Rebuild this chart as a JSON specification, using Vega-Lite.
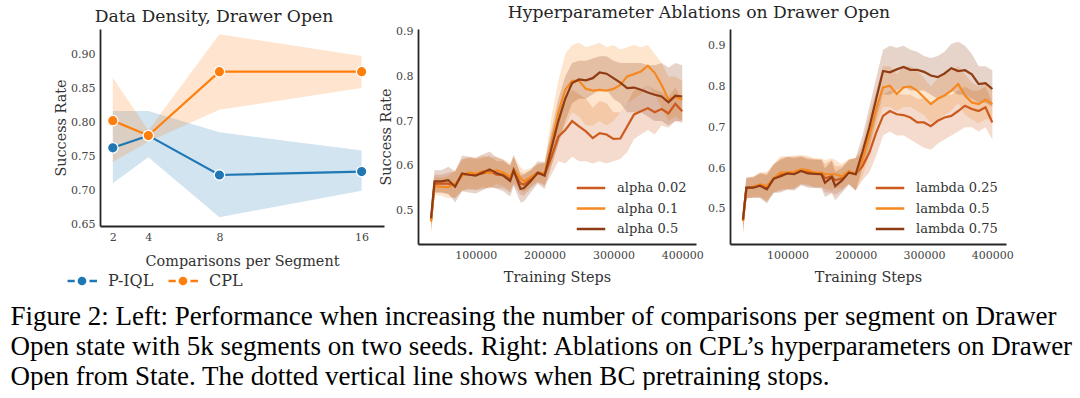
{
"$schema":"https://vega.github.io/schema/vega-lite/v6.json",
"background":"white",
"padding":{"left":10,"top":4,"right":5,"bottom":0},
"config":{"view":{"stroke":null},"font":"DejaVu Serif",
 "axis":{"domainColor":"#262626","domainWidth":1.8,"ticks":false,"grid":false,"labelOverlap":false,"labelFont":"DejaVu Serif","labelFontSize":11,"labelColor":"#444","labelPadding":5,"titleFont":"DejaVu Serif","titleFontSize":14.4,"titleFontWeight":"normal","titleColor":"#333"},
 "legend":{"labelFont":"DejaVu Serif","labelFontSize":13,"labelColor":"#333"}},
"title":{"text":["Figure 2: Left: Performance when increasing the number of comparisons per segment on Drawer","Open state with 5k segments on two seeds. Right: Ablations on CPL’s hyperparameters on Drawer","Open from State. The dotted vertical line shows when BC pretraining stops."],"orient":"bottom","anchor":"start","frame":"bounds","font":"Liberation Serif","fontSize":27,"fontWeight":"normal","lineHeight":30,"color":"black","dx":-43,"offset":15},
"bounds":"flush",
"spacing":34,
"resolve":{"scale":{"color":"independent","fill":"independent","x":"independent","y":"independent"},"legend":{"color":"independent","fill":"independent"}},
"datasets":{
"dd":[
{"c":2,"method":"P-IQL","m":0.763,"lo":0.711,"hi":0.817},
{"c":4,"method":"P-IQL","m":0.781,"lo":0.749,"hi":0.817},
{"c":8,"method":"P-IQL","m":0.723,"lo":0.661,"hi":0.786},
{"c":16,"method":"P-IQL","m":0.728,"lo":0.700,"hi":0.759},
{"c":2,"method":"CPL","m":0.803,"lo":0.742,"hi":0.866},
{"c":4,"method":"CPL","m":0.781,"lo":0.772,"hi":0.789},
{"c":8,"method":"CPL","m":0.875,"lo":0.819,"hi":0.930},
{"c":16,"method":"CPL","m":0.875,"lo":0.851,"hi":0.898}],
"alpha":[
{"s":35000,"k":"alpha 0.02","m":0.478,"lo":0.453,"hi":0.503},
{"s":40000,"k":"alpha 0.02","m":0.560,"lo":0.540,"hi":0.580},
{"s":50000,"k":"alpha 0.02","m":0.560,"lo":0.540,"hi":0.580},
{"s":60000,"k":"alpha 0.02","m":0.560,"lo":0.535,"hi":0.585},
{"s":70000,"k":"alpha 0.02","m":0.556,"lo":0.526,"hi":0.586},
{"s":80000,"k":"alpha 0.02","m":0.580,"lo":0.545,"hi":0.615},
{"s":90000,"k":"alpha 0.02","m":0.582,"lo":0.547,"hi":0.617},
{"s":100000,"k":"alpha 0.02","m":0.580,"lo":0.545,"hi":0.615},
{"s":110000,"k":"alpha 0.02","m":0.583,"lo":0.548,"hi":0.618},
{"s":120000,"k":"alpha 0.02","m":0.588,"lo":0.553,"hi":0.623},
{"s":130000,"k":"alpha 0.02","m":0.580,"lo":0.550,"hi":0.610},
{"s":140000,"k":"alpha 0.02","m":0.580,"lo":0.550,"hi":0.610},
{"s":150000,"k":"alpha 0.02","m":0.570,"lo":0.540,"hi":0.600},
{"s":155000,"k":"alpha 0.02","m":0.588,"lo":0.558,"hi":0.618},
{"s":165000,"k":"alpha 0.02","m":0.560,"lo":0.535,"hi":0.585},
{"s":170000,"k":"alpha 0.02","m":0.558,"lo":0.533,"hi":0.583},
{"s":180000,"k":"alpha 0.02","m":0.570,"lo":0.550,"hi":0.590},
{"s":190000,"k":"alpha 0.02","m":0.583,"lo":0.563,"hi":0.603},
{"s":200000,"k":"alpha 0.02","m":0.580,"lo":0.555,"hi":0.605},
{"s":210000,"k":"alpha 0.02","m":0.620,"lo":0.580,"hi":0.670},
{"s":220000,"k":"alpha 0.02","m":0.665,"lo":0.610,"hi":0.720},
{"s":230000,"k":"alpha 0.02","m":0.680,"lo":0.605,"hi":0.750},
{"s":240000,"k":"alpha 0.02","m":0.700,"lo":0.620,"hi":0.770},
{"s":250000,"k":"alpha 0.02","m":0.688,"lo":0.610,"hi":0.760},
{"s":260000,"k":"alpha 0.02","m":0.677,"lo":0.610,"hi":0.750},
{"s":270000,"k":"alpha 0.02","m":0.662,"lo":0.605,"hi":0.730},
{"s":280000,"k":"alpha 0.02","m":0.673,"lo":0.610,"hi":0.745},
{"s":290000,"k":"alpha 0.02","m":0.670,"lo":0.605,"hi":0.740},
{"s":300000,"k":"alpha 0.02","m":0.660,"lo":0.610,"hi":0.720},
{"s":310000,"k":"alpha 0.02","m":0.661,"lo":0.615,"hi":0.720},
{"s":320000,"k":"alpha 0.02","m":0.688,"lo":0.630,"hi":0.740},
{"s":330000,"k":"alpha 0.02","m":0.715,"lo":0.660,"hi":0.770},
{"s":340000,"k":"alpha 0.02","m":0.722,"lo":0.670,"hi":0.770},
{"s":350000,"k":"alpha 0.02","m":0.729,"lo":0.680,"hi":0.780},
{"s":360000,"k":"alpha 0.02","m":0.720,"lo":0.670,"hi":0.770},
{"s":370000,"k":"alpha 0.02","m":0.727,"lo":0.690,"hi":0.765},
{"s":380000,"k":"alpha 0.02","m":0.717,"lo":0.685,"hi":0.755},
{"s":390000,"k":"alpha 0.02","m":0.739,"lo":0.700,"hi":0.775},
{"s":400000,"k":"alpha 0.02","m":0.722,"lo":0.695,"hi":0.750},
{"s":35000,"k":"alpha 0.1","m":0.475,"lo":0.450,"hi":0.500},
{"s":40000,"k":"alpha 0.1","m":0.555,"lo":0.535,"hi":0.575},
{"s":50000,"k":"alpha 0.1","m":0.553,"lo":0.533,"hi":0.573},
{"s":60000,"k":"alpha 0.1","m":0.552,"lo":0.527,"hi":0.577},
{"s":70000,"k":"alpha 0.1","m":0.560,"lo":0.530,"hi":0.590},
{"s":80000,"k":"alpha 0.1","m":0.578,"lo":0.543,"hi":0.613},
{"s":90000,"k":"alpha 0.1","m":0.585,"lo":0.550,"hi":0.620},
{"s":100000,"k":"alpha 0.1","m":0.582,"lo":0.547,"hi":0.617},
{"s":110000,"k":"alpha 0.1","m":0.588,"lo":0.553,"hi":0.623},
{"s":120000,"k":"alpha 0.1","m":0.583,"lo":0.548,"hi":0.618},
{"s":130000,"k":"alpha 0.1","m":0.590,"lo":0.560,"hi":0.620},
{"s":140000,"k":"alpha 0.1","m":0.585,"lo":0.555,"hi":0.615},
{"s":150000,"k":"alpha 0.1","m":0.575,"lo":0.545,"hi":0.605},
{"s":155000,"k":"alpha 0.1","m":0.592,"lo":0.562,"hi":0.622},
{"s":165000,"k":"alpha 0.1","m":0.572,"lo":0.547,"hi":0.597},
{"s":170000,"k":"alpha 0.1","m":0.565,"lo":0.540,"hi":0.590},
{"s":180000,"k":"alpha 0.1","m":0.575,"lo":0.555,"hi":0.595},
{"s":190000,"k":"alpha 0.1","m":0.585,"lo":0.565,"hi":0.605},
{"s":200000,"k":"alpha 0.1","m":0.583,"lo":0.558,"hi":0.608},
{"s":210000,"k":"alpha 0.1","m":0.650,"lo":0.600,"hi":0.710},
{"s":220000,"k":"alpha 0.1","m":0.720,"lo":0.650,"hi":0.790},
{"s":230000,"k":"alpha 0.1","m":0.770,"lo":0.690,"hi":0.850},
{"s":240000,"k":"alpha 0.1","m":0.790,"lo":0.720,"hi":0.870},
{"s":250000,"k":"alpha 0.1","m":0.790,"lo":0.710,"hi":0.875},
{"s":260000,"k":"alpha 0.1","m":0.772,"lo":0.690,"hi":0.865},
{"s":270000,"k":"alpha 0.1","m":0.768,"lo":0.690,"hi":0.870},
{"s":280000,"k":"alpha 0.1","m":0.770,"lo":0.700,"hi":0.875},
{"s":290000,"k":"alpha 0.1","m":0.768,"lo":0.690,"hi":0.865},
{"s":300000,"k":"alpha 0.1","m":0.772,"lo":0.700,"hi":0.870},
{"s":310000,"k":"alpha 0.1","m":0.781,"lo":0.720,"hi":0.860},
{"s":320000,"k":"alpha 0.1","m":0.800,"lo":0.740,"hi":0.865},
{"s":330000,"k":"alpha 0.1","m":0.805,"lo":0.750,"hi":0.870},
{"s":340000,"k":"alpha 0.1","m":0.811,"lo":0.760,"hi":0.865},
{"s":350000,"k":"alpha 0.1","m":0.824,"lo":0.780,"hi":0.870},
{"s":360000,"k":"alpha 0.1","m":0.808,"lo":0.760,"hi":0.850},
{"s":370000,"k":"alpha 0.1","m":0.781,"lo":0.730,"hi":0.830},
{"s":380000,"k":"alpha 0.1","m":0.748,"lo":0.700,"hi":0.800},
{"s":390000,"k":"alpha 0.1","m":0.754,"lo":0.710,"hi":0.800},
{"s":400000,"k":"alpha 0.1","m":0.748,"lo":0.700,"hi":0.790},
{"s":35000,"k":"alpha 0.5","m":0.483,"lo":0.453,"hi":0.513},
{"s":40000,"k":"alpha 0.5","m":0.565,"lo":0.540,"hi":0.590},
{"s":50000,"k":"alpha 0.5","m":0.565,"lo":0.540,"hi":0.590},
{"s":60000,"k":"alpha 0.5","m":0.568,"lo":0.538,"hi":0.598},
{"s":70000,"k":"alpha 0.5","m":0.553,"lo":0.518,"hi":0.588},
{"s":80000,"k":"alpha 0.5","m":0.583,"lo":0.543,"hi":0.623},
{"s":90000,"k":"alpha 0.5","m":0.580,"lo":0.540,"hi":0.620},
{"s":100000,"k":"alpha 0.5","m":0.578,"lo":0.538,"hi":0.618},
{"s":110000,"k":"alpha 0.5","m":0.585,"lo":0.545,"hi":0.625},
{"s":120000,"k":"alpha 0.5","m":0.592,"lo":0.552,"hi":0.632},
{"s":130000,"k":"alpha 0.5","m":0.584,"lo":0.549,"hi":0.619},
{"s":140000,"k":"alpha 0.5","m":0.578,"lo":0.543,"hi":0.613},
{"s":150000,"k":"alpha 0.5","m":0.566,"lo":0.531,"hi":0.601},
{"s":155000,"k":"alpha 0.5","m":0.590,"lo":0.555,"hi":0.625},
{"s":165000,"k":"alpha 0.5","m":0.548,"lo":0.518,"hi":0.578},
{"s":170000,"k":"alpha 0.5","m":0.550,"lo":0.520,"hi":0.580},
{"s":180000,"k":"alpha 0.5","m":0.566,"lo":0.541,"hi":0.591},
{"s":190000,"k":"alpha 0.5","m":0.585,"lo":0.560,"hi":0.610},
{"s":200000,"k":"alpha 0.5","m":0.578,"lo":0.548,"hi":0.608},
{"s":210000,"k":"alpha 0.5","m":0.640,"lo":0.600,"hi":0.680},
{"s":220000,"k":"alpha 0.5","m":0.700,"lo":0.650,"hi":0.750},
{"s":230000,"k":"alpha 0.5","m":0.750,"lo":0.700,"hi":0.800},
{"s":240000,"k":"alpha 0.5","m":0.785,"lo":0.740,"hi":0.830},
{"s":250000,"k":"alpha 0.5","m":0.793,"lo":0.750,"hi":0.835},
{"s":260000,"k":"alpha 0.5","m":0.791,"lo":0.750,"hi":0.835},
{"s":270000,"k":"alpha 0.5","m":0.796,"lo":0.760,"hi":0.840},
{"s":280000,"k":"alpha 0.5","m":0.809,"lo":0.770,"hi":0.845},
{"s":290000,"k":"alpha 0.5","m":0.806,"lo":0.770,"hi":0.845},
{"s":300000,"k":"alpha 0.5","m":0.796,"lo":0.750,"hi":0.835},
{"s":310000,"k":"alpha 0.5","m":0.786,"lo":0.740,"hi":0.830},
{"s":320000,"k":"alpha 0.5","m":0.774,"lo":0.720,"hi":0.830},
{"s":330000,"k":"alpha 0.5","m":0.775,"lo":0.720,"hi":0.830},
{"s":340000,"k":"alpha 0.5","m":0.770,"lo":0.720,"hi":0.830},
{"s":350000,"k":"alpha 0.5","m":0.764,"lo":0.710,"hi":0.825},
{"s":360000,"k":"alpha 0.5","m":0.759,"lo":0.700,"hi":0.825},
{"s":370000,"k":"alpha 0.5","m":0.755,"lo":0.700,"hi":0.830},
{"s":380000,"k":"alpha 0.5","m":0.742,"lo":0.690,"hi":0.820},
{"s":390000,"k":"alpha 0.5","m":0.757,"lo":0.700,"hi":0.830},
{"s":400000,"k":"alpha 0.5","m":0.755,"lo":0.700,"hi":0.825}],
"lambda":[
{"s":35000,"k":"lambda 0.25","m":0.472,"lo":0.442,"hi":0.502},
{"s":40000,"k":"lambda 0.25","m":0.551,"lo":0.526,"hi":0.576},
{"s":50000,"k":"lambda 0.25","m":0.553,"lo":0.528,"hi":0.578},
{"s":60000,"k":"lambda 0.25","m":0.558,"lo":0.528,"hi":0.588},
{"s":70000,"k":"lambda 0.25","m":0.552,"lo":0.517,"hi":0.587},
{"s":80000,"k":"lambda 0.25","m":0.575,"lo":0.540,"hi":0.610},
{"s":90000,"k":"lambda 0.25","m":0.584,"lo":0.544,"hi":0.624},
{"s":100000,"k":"lambda 0.25","m":0.588,"lo":0.548,"hi":0.628},
{"s":110000,"k":"lambda 0.25","m":0.588,"lo":0.548,"hi":0.628},
{"s":120000,"k":"lambda 0.25","m":0.595,"lo":0.560,"hi":0.630},
{"s":130000,"k":"lambda 0.25","m":0.591,"lo":0.556,"hi":0.626},
{"s":140000,"k":"lambda 0.25","m":0.587,"lo":0.552,"hi":0.622},
{"s":150000,"k":"lambda 0.25","m":0.587,"lo":0.552,"hi":0.622},
{"s":155000,"k":"lambda 0.25","m":0.575,"lo":0.540,"hi":0.610},
{"s":165000,"k":"lambda 0.25","m":0.580,"lo":0.540,"hi":0.620},
{"s":170000,"k":"lambda 0.25","m":0.570,"lo":0.535,"hi":0.605},
{"s":180000,"k":"lambda 0.25","m":0.575,"lo":0.545,"hi":0.605},
{"s":190000,"k":"lambda 0.25","m":0.591,"lo":0.561,"hi":0.621},
{"s":200000,"k":"lambda 0.25","m":0.585,"lo":0.545,"hi":0.625},
{"s":210000,"k":"lambda 0.25","m":0.605,"lo":0.570,"hi":0.640},
{"s":220000,"k":"lambda 0.25","m":0.638,"lo":0.590,"hi":0.690},
{"s":230000,"k":"lambda 0.25","m":0.687,"lo":0.630,"hi":0.740},
{"s":240000,"k":"lambda 0.25","m":0.728,"lo":0.680,"hi":0.780},
{"s":250000,"k":"lambda 0.25","m":0.740,"lo":0.690,"hi":0.790},
{"s":260000,"k":"lambda 0.25","m":0.732,"lo":0.680,"hi":0.785},
{"s":270000,"k":"lambda 0.25","m":0.730,"lo":0.680,"hi":0.780},
{"s":280000,"k":"lambda 0.25","m":0.724,"lo":0.670,"hi":0.780},
{"s":290000,"k":"lambda 0.25","m":0.712,"lo":0.660,"hi":0.770},
{"s":300000,"k":"lambda 0.25","m":0.712,"lo":0.650,"hi":0.770},
{"s":310000,"k":"lambda 0.25","m":0.703,"lo":0.645,"hi":0.760},
{"s":320000,"k":"lambda 0.25","m":0.716,"lo":0.660,"hi":0.770},
{"s":330000,"k":"lambda 0.25","m":0.724,"lo":0.670,"hi":0.780},
{"s":340000,"k":"lambda 0.25","m":0.728,"lo":0.680,"hi":0.780},
{"s":350000,"k":"lambda 0.25","m":0.740,"lo":0.690,"hi":0.790},
{"s":360000,"k":"lambda 0.25","m":0.753,"lo":0.700,"hi":0.800},
{"s":370000,"k":"lambda 0.25","m":0.745,"lo":0.700,"hi":0.790},
{"s":380000,"k":"lambda 0.25","m":0.740,"lo":0.690,"hi":0.790},
{"s":390000,"k":"lambda 0.25","m":0.749,"lo":0.700,"hi":0.800},
{"s":400000,"k":"lambda 0.25","m":0.712,"lo":0.670,"hi":0.760},
{"s":35000,"k":"lambda 0.5","m":0.470,"lo":0.440,"hi":0.500},
{"s":40000,"k":"lambda 0.5","m":0.550,"lo":0.525,"hi":0.575},
{"s":50000,"k":"lambda 0.5","m":0.555,"lo":0.530,"hi":0.580},
{"s":60000,"k":"lambda 0.5","m":0.560,"lo":0.530,"hi":0.590},
{"s":70000,"k":"lambda 0.5","m":0.556,"lo":0.521,"hi":0.591},
{"s":80000,"k":"lambda 0.5","m":0.575,"lo":0.540,"hi":0.610},
{"s":90000,"k":"lambda 0.5","m":0.589,"lo":0.549,"hi":0.629},
{"s":100000,"k":"lambda 0.5","m":0.589,"lo":0.549,"hi":0.629},
{"s":110000,"k":"lambda 0.5","m":0.591,"lo":0.551,"hi":0.631},
{"s":120000,"k":"lambda 0.5","m":0.597,"lo":0.562,"hi":0.632},
{"s":130000,"k":"lambda 0.5","m":0.595,"lo":0.560,"hi":0.630},
{"s":140000,"k":"lambda 0.5","m":0.589,"lo":0.554,"hi":0.624},
{"s":150000,"k":"lambda 0.5","m":0.589,"lo":0.554,"hi":0.624},
{"s":155000,"k":"lambda 0.5","m":0.585,"lo":0.550,"hi":0.620},
{"s":165000,"k":"lambda 0.5","m":0.585,"lo":0.545,"hi":0.625},
{"s":170000,"k":"lambda 0.5","m":0.585,"lo":0.550,"hi":0.620},
{"s":180000,"k":"lambda 0.5","m":0.580,"lo":0.550,"hi":0.610},
{"s":190000,"k":"lambda 0.5","m":0.593,"lo":0.563,"hi":0.623},
{"s":200000,"k":"lambda 0.5","m":0.585,"lo":0.545,"hi":0.625},
{"s":210000,"k":"lambda 0.5","m":0.620,"lo":0.580,"hi":0.660},
{"s":220000,"k":"lambda 0.5","m":0.680,"lo":0.630,"hi":0.730},
{"s":230000,"k":"lambda 0.5","m":0.745,"lo":0.700,"hi":0.790},
{"s":240000,"k":"lambda 0.5","m":0.798,"lo":0.750,"hi":0.850},
{"s":250000,"k":"lambda 0.5","m":0.802,"lo":0.750,"hi":0.850},
{"s":260000,"k":"lambda 0.5","m":0.782,"lo":0.740,"hi":0.830},
{"s":270000,"k":"lambda 0.5","m":0.798,"lo":0.750,"hi":0.850},
{"s":280000,"k":"lambda 0.5","m":0.800,"lo":0.750,"hi":0.850},
{"s":290000,"k":"lambda 0.5","m":0.790,"lo":0.740,"hi":0.840},
{"s":300000,"k":"lambda 0.5","m":0.773,"lo":0.730,"hi":0.820},
{"s":310000,"k":"lambda 0.5","m":0.757,"lo":0.710,"hi":0.800},
{"s":320000,"k":"lambda 0.5","m":0.770,"lo":0.720,"hi":0.820},
{"s":330000,"k":"lambda 0.5","m":0.778,"lo":0.730,"hi":0.830},
{"s":340000,"k":"lambda 0.5","m":0.790,"lo":0.740,"hi":0.840},
{"s":350000,"k":"lambda 0.5","m":0.806,"lo":0.760,"hi":0.850},
{"s":360000,"k":"lambda 0.5","m":0.778,"lo":0.730,"hi":0.830},
{"s":370000,"k":"lambda 0.5","m":0.761,"lo":0.720,"hi":0.810},
{"s":380000,"k":"lambda 0.5","m":0.757,"lo":0.710,"hi":0.800},
{"s":390000,"k":"lambda 0.5","m":0.768,"lo":0.720,"hi":0.810},
{"s":400000,"k":"lambda 0.5","m":0.757,"lo":0.720,"hi":0.800},
{"s":35000,"k":"lambda 0.75","m":0.474,"lo":0.444,"hi":0.504},
{"s":40000,"k":"lambda 0.75","m":0.552,"lo":0.527,"hi":0.577},
{"s":50000,"k":"lambda 0.75","m":0.552,"lo":0.527,"hi":0.577},
{"s":60000,"k":"lambda 0.75","m":0.557,"lo":0.527,"hi":0.587},
{"s":70000,"k":"lambda 0.75","m":0.548,"lo":0.513,"hi":0.583},
{"s":80000,"k":"lambda 0.75","m":0.574,"lo":0.539,"hi":0.609},
{"s":90000,"k":"lambda 0.75","m":0.580,"lo":0.540,"hi":0.620},
{"s":100000,"k":"lambda 0.75","m":0.587,"lo":0.547,"hi":0.627},
{"s":110000,"k":"lambda 0.75","m":0.585,"lo":0.545,"hi":0.625},
{"s":120000,"k":"lambda 0.75","m":0.593,"lo":0.558,"hi":0.628},
{"s":130000,"k":"lambda 0.75","m":0.587,"lo":0.552,"hi":0.622},
{"s":140000,"k":"lambda 0.75","m":0.586,"lo":0.551,"hi":0.621},
{"s":150000,"k":"lambda 0.75","m":0.585,"lo":0.550,"hi":0.620},
{"s":155000,"k":"lambda 0.75","m":0.564,"lo":0.529,"hi":0.599},
{"s":165000,"k":"lambda 0.75","m":0.578,"lo":0.538,"hi":0.618},
{"s":170000,"k":"lambda 0.75","m":0.556,"lo":0.521,"hi":0.591},
{"s":180000,"k":"lambda 0.75","m":0.570,"lo":0.540,"hi":0.600},
{"s":190000,"k":"lambda 0.75","m":0.589,"lo":0.559,"hi":0.619},
{"s":200000,"k":"lambda 0.75","m":0.585,"lo":0.545,"hi":0.625},
{"s":210000,"k":"lambda 0.75","m":0.640,"lo":0.600,"hi":0.680},
{"s":220000,"k":"lambda 0.75","m":0.700,"lo":0.650,"hi":0.750},
{"s":230000,"k":"lambda 0.75","m":0.770,"lo":0.720,"hi":0.820},
{"s":240000,"k":"lambda 0.75","m":0.838,"lo":0.780,"hi":0.890},
{"s":250000,"k":"lambda 0.75","m":0.835,"lo":0.780,"hi":0.900},
{"s":260000,"k":"lambda 0.75","m":0.842,"lo":0.790,"hi":0.895},
{"s":270000,"k":"lambda 0.75","m":0.848,"lo":0.800,"hi":0.900},
{"s":280000,"k":"lambda 0.75","m":0.841,"lo":0.790,"hi":0.890},
{"s":290000,"k":"lambda 0.75","m":0.841,"lo":0.790,"hi":0.885},
{"s":300000,"k":"lambda 0.75","m":0.836,"lo":0.790,"hi":0.875},
{"s":310000,"k":"lambda 0.75","m":0.827,"lo":0.780,"hi":0.870},
{"s":320000,"k":"lambda 0.75","m":0.823,"lo":0.770,"hi":0.875},
{"s":330000,"k":"lambda 0.75","m":0.832,"lo":0.780,"hi":0.885},
{"s":340000,"k":"lambda 0.75","m":0.845,"lo":0.790,"hi":0.905},
{"s":350000,"k":"lambda 0.75","m":0.838,"lo":0.780,"hi":0.910},
{"s":360000,"k":"lambda 0.75","m":0.840,"lo":0.780,"hi":0.900},
{"s":370000,"k":"lambda 0.75","m":0.830,"lo":0.770,"hi":0.880},
{"s":380000,"k":"lambda 0.75","m":0.806,"lo":0.760,"hi":0.850},
{"s":390000,"k":"lambda 0.75","m":0.808,"lo":0.760,"hi":0.850},
{"s":400000,"k":"lambda 0.75","m":0.794,"lo":0.750,"hi":0.840}]
},
"hconcat":[
{
 "width":284,"height":197,
 "title":{"text":"Data Density, Drawer Open","font":"DejaVu Serif","fontSize":17.2,"fontWeight":"normal","color":"#262626","anchor":"middle","dx":-28,"offset":4},
 "data":{"name":"dd"},
 "encoding":{
  "x":{"field":"c","type":"quantitative","scale":{"domain":[1.28,17.26],"nice":false,"zero":false},"axis":{"values":[2,4,8,16],"labelOverlap":false,"title":"Comparisons per Segment","titlePadding":12}}
 },
 "layer":[
  {"mark":{"type":"area","opacity":0.2},
   "encoding":{"y":{"field":"lo","type":"quantitative","scale":{"domain":[0.648,0.9378],"nice":false,"zero":false},"axis":{"values":[0.65,0.7,0.75,0.8,0.85,0.9],"labelOverlap":false,"labelBound":false,"format":".2f","title":"Success Rate","titlePadding":2}},"y2":{"field":"hi"},
    "fill":{"field":"method","type":"nominal","scale":{"domain":["CPL","P-IQL"],"range":["#ff7f0e","#1f77b4"]},"legend":null}}},
  {"mark":{"type":"line","strokeWidth":2.2},
   "encoding":{"y":{"field":"m","type":"quantitative","axis":{"values":[0.65,0.7,0.75,0.8,0.85,0.9],"labelOverlap":false,"labelBound":false,"format":".2f","title":"Success Rate","titlePadding":2}},
    "color":{"field":"method","type":"nominal","scale":{"domain":["P-IQL","CPL"],"range":["#1f77b4","#ff7f0e"]},
     "legend":{"orient":"none","legendX":-27,"legendY":243,"direction":"horizontal","title":null,"symbolType":"M-1.93,0H-0.97M1.0,0H2.0M-0.42,0A0.42,0.42,0,1,1,0.42,0A0.42,0.42,0,1,1,-0.42,0ZM-0.17,0A0.17,0.17,0,1,1,0.17,0A0.17,0.17,0,1,1,-0.17,0Z","symbolSize":225,"symbolStrokeWidth":2.4,"labelOffset":17,"columnPadding":9,"labelFontSize":16,
      "encode":{"labels":{"update":{"fontSize":{"value":16}}}}}}}},
  {"mark":{"type":"point","filled":true,"size":110,"opacity":1,"stroke":"white","strokeWidth":1.3},
   "encoding":{"y":{"field":"m","type":"quantitative","axis":{"values":[0.65,0.7,0.75,0.8,0.85,0.9],"labelOverlap":false,"labelBound":false,"format":".2f","title":"Success Rate","titlePadding":2}},
    "fill":{"field":"method","type":"nominal","scale":{"domain":["CPL","P-IQL"],"range":["#ff7f0e","#1f77b4"]},"legend":null}}}
 ]
},
{
 "width":278,"height":215,
 "title":{"text":"Hyperparameter Ablations on Drawer Open","font":"DejaVu Serif","fontSize":17.2,"fontWeight":"normal","color":"#262626","anchor":"middle","dx":142,"offset":4},
 "data":{"name":"alpha"},
 "encoding":{
  "x":{"field":"s","type":"quantitative","scale":{"domain":[16000,420000],"nice":false,"zero":false},"axis":{"values":[100000,200000,300000,400000],"labelOverlap":false,"format":"d","title":"Training Steps","titlePadding":10}}
 },
 "layer":[
  {"mark":{"type":"area","opacity":0.22},
   "encoding":{"y":{"field":"lo","type":"quantitative","scale":{"domain":[0.425,0.906],"nice":false,"zero":false},"axis":{"values":[0.5,0.6,0.7,0.8,0.9],"labelOverlap":false,"format":".1f","title":"Success Rate","titlePadding":2}},"y2":{"field":"hi"},
    "fill":{"field":"k","type":"nominal","scale":{"domain":["alpha 0.5","alpha 0.1","alpha 0.02"],"range":["#8f3b14","#f5891f","#cc5a1e"]},"legend":null}}},
  {"mark":{"type":"line","strokeWidth":2.2},
   "encoding":{"y":{"field":"m","type":"quantitative","axis":{"values":[0.5,0.6,0.7,0.8,0.9],"labelOverlap":false,"format":".1f","title":"Success Rate","titlePadding":2}},
    "color":{"field":"k","type":"nominal","scale":{"domain":["alpha 0.02","alpha 0.1","alpha 0.5"],"range":["#cc5a1e","#f5891f","#8f3b14"]},
     "legend":{"orient":"none","legendX":164,"legendY":150,"title":null,"symbolType":"M-1.9,0H1.9","symbolSize":225,"symbolStrokeWidth":2.5,"labelOffset":17,"rowPadding":4.5,"labelFontSize":13}}}},
  {"data":{"values":[{}]},"mark":{"type":"rule","color":"black","strokeWidth":2.5,"strokeDash":[7,4]},"encoding":{"x":{"datum":200000}}}
 ]
},
{
 "width":276,"height":215,
 "data":{"name":"lambda"},
 "encoding":{
  "x":{"field":"s","type":"quantitative","scale":{"domain":[16000,420000],"nice":false,"zero":false},"axis":{"values":[100000,200000,300000,400000],"labelOverlap":false,"format":"d","title":"Training Steps","titlePadding":10}}
 },
 "layer":[
  {"mark":{"type":"area","opacity":0.22},
   "encoding":{"y":{"field":"lo","type":"quantitative","scale":{"domain":[0.414,0.941],"nice":false,"zero":false},"axis":{"values":[0.5,0.6,0.7,0.8,0.9],"labelOverlap":false,"format":".1f","title":null}},"y2":{"field":"hi"},
    "fill":{"field":"k","type":"nominal","scale":{"domain":["lambda 0.75","lambda 0.5","lambda 0.25"],"range":["#8f3b14","#f5891f","#cc5a1e"]},"legend":null}}},
  {"mark":{"type":"line","strokeWidth":2.2},
   "encoding":{"y":{"field":"m","type":"quantitative","axis":{"values":[0.5,0.6,0.7,0.8,0.9],"labelOverlap":false,"format":".1f","title":null}},
    "color":{"field":"k","type":"nominal","scale":{"domain":["lambda 0.25","lambda 0.5","lambda 0.75"],"range":["#cc5a1e","#f5891f","#8f3b14"]},
     "legend":{"orient":"none","legendX":151,"legendY":150,"title":null,"symbolType":"M-1.9,0H1.9","symbolSize":225,"symbolStrokeWidth":2.5,"labelOffset":17,"rowPadding":4.5,"labelFontSize":13}}}},
  {"data":{"values":[{}]},"mark":{"type":"rule","color":"black","strokeWidth":2.5,"strokeDash":[7,4]},"encoding":{"x":{"datum":200000}}}
 ]
}
]
}
